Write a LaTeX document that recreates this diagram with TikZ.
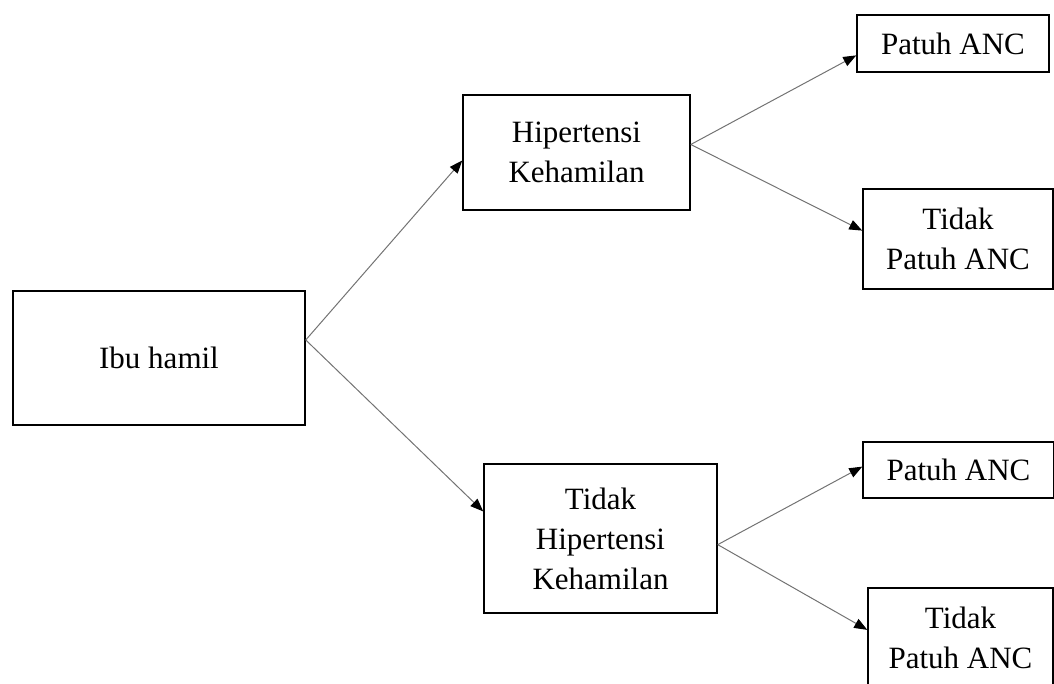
\documentclass[tikz,border=0pt]{standalone}
\usepackage{fontspec}
\setmainfont{Liberation Serif}
\usetikzlibrary{arrows.meta}

\begin{document}
\begin{tikzpicture}[x=1pt, y=-1pt, box/.style = {draw, line width=1.5pt, align=center, inner sep=0pt, font=\fontsize{31}{40}\selectfont}, arr/.style = {draw=black!55, line width=1pt, -{Triangle[length=13pt, width=10pt, color=black]}}]
        \useasboundingbox (0,0) rectangle (1054,684);
        \node[box, minimum width=292pt, minimum height=134pt] (ibu) at (159,358) {Ibu hamil};
        \node[box, minimum width=227pt, minimum height=115pt] (hiper) at (576.5,152.5) {Hipertensi\\Kehamilan};
        \node[box, minimum width=233pt, minimum height=149pt] (tidakhiper) at (600.5,538.5) {Tidak\\Hipertensi\\Kehamilan};
        \node[box, minimum width=192pt, minimum height=57pt] (patuh1) at (953,43.5) {Patuh ANC};
        \node[box, minimum width=190pt, minimum height=100pt] (tidakpatuh1) at (958,239) {Tidak\\Patuh ANC};
        \node[box, minimum width=191pt, minimum height=56pt] (patuh2) at (958.5,470) {Patuh ANC};
        \node[box, minimum width=185pt, minimum height=100pt] (tidakpatuh2) at (960.5,638) {Tidak\\Patuh ANC};

        \draw[arr] (ibu.7) -- (hiper.184);
        \draw[arr] (ibu.7) -- (tidakhiper.167);
        \draw[arr] (hiper.4) -- (patuh1.187);
        \draw[arr] (hiper.4) -- (tidakpatuh1.175);
        \draw[arr] (tidakhiper.357) -- (patuh2.178);
        \draw[arr] (tidakhiper.357) -- (tidakpatuh2.175);

    \end{tikzpicture}
\end{document}
